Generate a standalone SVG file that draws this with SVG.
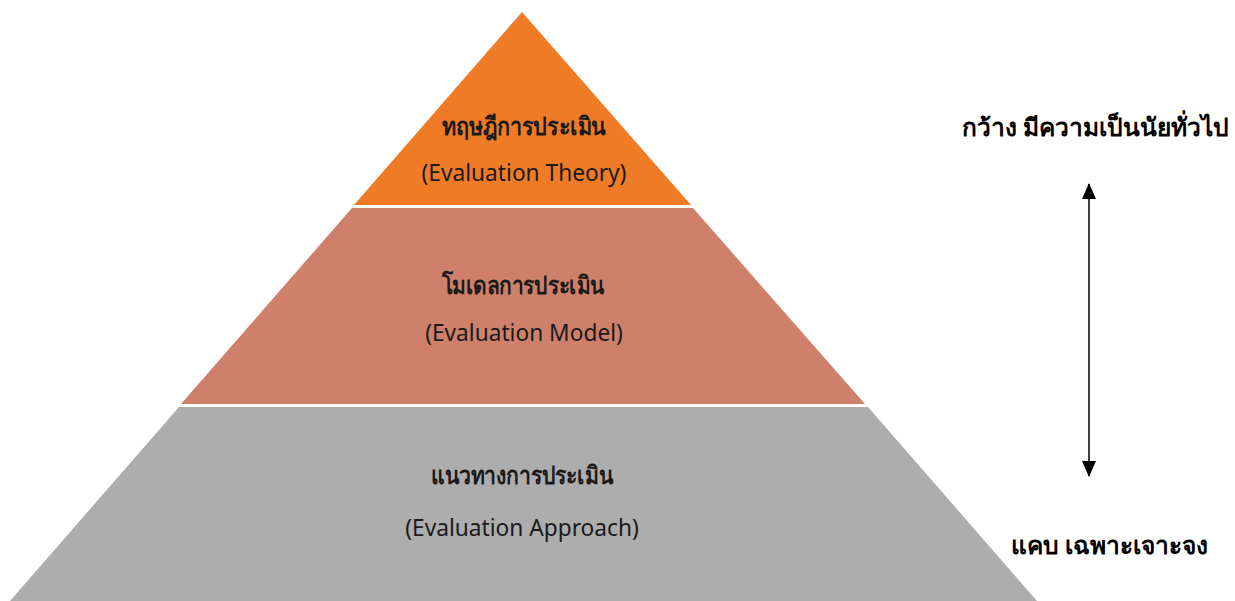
<svg xmlns="http://www.w3.org/2000/svg" width="1235" height="601" viewBox="0 0 1235 601">
<style>
.t{font-family:"Noto Sans","DejaVu Sans","Liberation Sans",sans-serif;fill:#1a1a1a;text-anchor:middle}
.th{font-size:25px;font-weight:bold}
.en{font-size:22.7px}
.side{font-family:"Noto Sans","DejaVu Sans","Liberation Sans",sans-serif;fill:#000;font-size:24.5px;font-weight:bold}
</style>
<defs>
<marker id="ah" viewBox="0 0 16 14" refX="15" refY="7" markerWidth="16" markerHeight="14" orient="auto-start-reverse" markerUnits="userSpaceOnUse">
<path d="M0,0 L16,7 L0,14 Z" fill="#000"/>
</marker>
</defs>
<rect width="1235" height="601" fill="#fff"/>
<g id="theory">
<polygon points="522,12 691,205 354,205" fill="#F07B27"/>
<text class="t th" x="524" y="135" textLength="164" lengthAdjust="spacingAndGlyphs">ทฤษฎีการประเมิน</text>
<text class="t en" x="524" y="181">(Evaluation Theory)</text>
</g>
<g id="model">
<polygon points="352,208 693,208 865,404 181,404" fill="#CF806B"/>
<text class="t th" x="523" y="294" textLength="163" lengthAdjust="spacingAndGlyphs">โมเดลการประเมิน</text>
<text class="t en" x="524" y="341">(Evaluation Model)</text>
</g>
<g id="approach">
<polygon points="179,407 868,407 1037,601 10,601" fill="#ADADAD"/>
<text class="t th" x="522" y="484" textLength="182" lengthAdjust="spacingAndGlyphs">แนวทางการประเมิน</text>
<text class="t en" x="522" y="536">(Evaluation Approach)</text>
</g>
<g id="connectors">
<line x1="1089" y1="184" x2="1089" y2="476" stroke="#000" stroke-width="1.5" marker-start="url(#ah)" marker-end="url(#ah)"/>
</g>
<g id="labels">
<text class="side" x="962" y="136">กว้าง มีความเป็นนัยทั่วไป</text>
<text class="side" x="1011" y="554" style="font-size:24.5px">แคบ เฉพาะเจาะจง</text>
</g>
</svg>
